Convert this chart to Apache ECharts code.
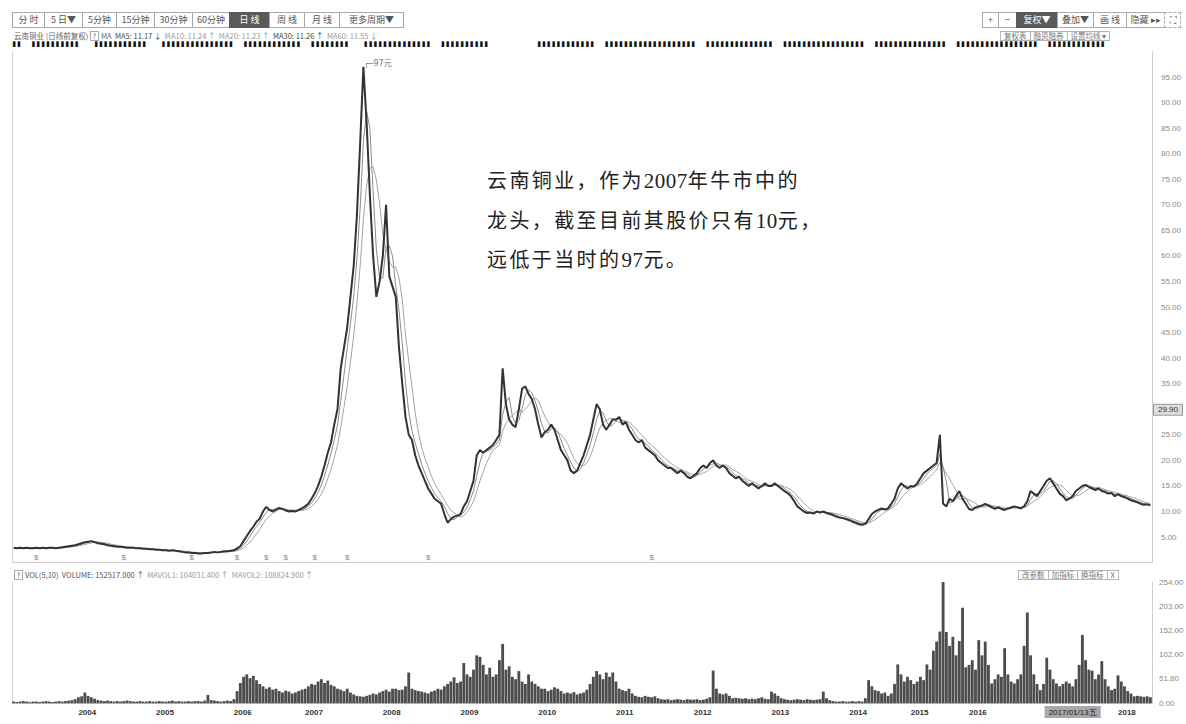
<!DOCTYPE html>
<html>
<head>
<meta charset="utf-8">
<script src="https://cdn.jsdelivr.net/npm/echarts@6/dist/echarts.min.js"></script>
<style>
  html, body { margin:0; padding:0; background:#fff; }
  #wrap { position:relative; width:1186px; height:724px; overflow:hidden; background:#fff;
          font-family:"Noto Sans CJK SC","Noto Sans",sans-serif; }
  #chart { position:absolute; left:0; top:0; width:1186px; height:724px; }
  .bar { position:absolute; display:flex; top:12px; height:16px; }
  .bar div { box-sizing:border-box; height:16px; border:1px solid #a9a9a9; margin-left:-1px;
             font-size:9px; line-height:14px; color:#555; text-align:center; background:#fff; white-space:nowrap; }
  .bar div.on { background:#5a5a5a; color:#fff; border-color:#5a5a5a; }
  .info { position:absolute; left:14px; top:31px; font-size:7.5px; line-height:10px; color:#666; white-space:nowrap; }
  .info .d { color:#444; } .info .l { color:#999; }
  .marks { position:absolute; left:13px; top:42px; font-family:"DejaVu Sans Mono",monospace; font-size:8px;
           line-height:8px; color:#111; white-space:pre; transform:scaleY(0.6); transform-origin:top left; }
  .sbtn { position:absolute; display:flex; }
  .sbtn div { box-sizing:border-box; border:1px solid #b5b5b5; margin-left:-1px; padding:0 3px;
              font-size:7.5px; line-height:8px; color:#777; background:#fff; white-space:nowrap; }
  .volhead { position:absolute; left:14px; top:570px; font-size:7.5px; line-height:10px; color:#555; white-space:nowrap; }
  .volhead .l { color:#999; }
  .q { display:inline-block; border:1px solid #aaa; width:7px; height:8px; line-height:8px; text-align:center; font-size:7px; margin-right:2px; }
  .note { position:absolute; left:487px; top:161px; font-size:20px; line-height:38.5px; color:#222;
          letter-spacing:2.4px; white-space:nowrap; }
  .note .n { font-family:"Liberation Serif","DejaVu Serif",serif; letter-spacing:0.5px; font-size:21px; }
</style>
</head>
<body>
<div id="wrap">
  <div id="chart"></div>

  <div class="bar" style="left:13px;">
    <div style="width:33px">分 时</div>
    <div style="width:39px">5 日▼</div>
    <div style="width:35px">5分钟</div>
    <div style="width:39px">15分钟</div>
    <div style="width:39px">30分钟</div>
    <div style="width:38px">60分钟</div>
    <div class="on" style="width:41px">日 线</div>
    <div style="width:36px">周 线</div>
    <div style="width:36px">月 线</div>
    <div style="width:65px">更多周期▼</div>
  </div>

  <div class="bar" style="left:983px;">
    <div style="width:17px">+</div>
    <div style="width:19px">−</div>
    <div class="on" style="width:42px">复权▼</div>
    <div style="width:37px">叠加▼</div>
    <div style="width:34px">画 线</div>
    <div style="width:39px">隐藏 ▸▸</div>
    <div style="width:17px;border-style:dashed">⛶</div>
  </div>

  <div class="info">云南铜业 (日线前复权) <span class="q">?</span>MA&nbsp; <span class="d">MA5: 11.17 ↓</span>&nbsp; <span class="l">MA10: 11.24 ↑</span>&nbsp; <span class="l">MA20: 11.23 ↑</span>&nbsp; <span class="d">MA30: 11.26 ↑</span>&nbsp; <span class="l">MA60: 11.55 ↓</span></div>

  <div class="sbtn" style="left:1001px; top:31px;">
    <div>复权表</div><div>融资融券</div><div>设置均线 ▾</div>
  </div>

  <div class="marks" id="marks"></div>

  <div class="volhead"><span class="q">?</span>VOL(5,10)&nbsp; VOLUME: 152517.000 ↑&nbsp; <span class="l">MAVOL1: 104031.400 ↑&nbsp; MAVOL2: 108824.900 ↑</span></div>

  <div class="sbtn" style="left:1019px; top:570px;">
    <div>改参数</div><div>加指标</div><div>换指标</div><div>X</div>
  </div>

  <div class="note">云南铜业，作为<span class="n">2007</span>年牛市中的<br>龙头，截至目前其股价只有<span class="n">10</span>元，<br>远低于当时的<span class="n">97</span>元。</div>
</div>

<script>
// ---- data: half-monthly closes (forward adjusted) ----
const price2003 = [2.9,2.8,2.9,2.8,2.9,2.8,2.8,2.9,2.8,2.9,2.8,2.9,2.9,2.8,2.9,3.0,3.1,3.2,3.3,3.4];
const price2004 = [3.6,3.8,4.0,4.1,4.2,4.0,3.8,3.7,3.6,3.4,3.3,3.2,3.1,3.1,3.0,2.9,2.9,2.9,2.8,2.8,2.7,2.7,2.6,2.6];
const price2005 = [2.5,2.5,2.4,2.4,2.3,2.4,2.3,2.2,2.1,2.0,2.0,1.9,1.9,1.8,1.8,1.9,1.9,2.0,2.1,2.0,2.1,2.2,2.2,2.3];
const price2006 = [2.4,2.8,3.2,4.2,5.2,6.2,7.0,8.0,8.6,10.0,10.9,10.3,10.0,10.4,10.7,10.5,10.2,10.0,10.1,10.0,10.3,10.6];
const price2007 = [11.0,11.5,12.5,13.6,15.0,16.8,19.0,21.5,23.5,27.0,30.0,38.0,42.0,46.0,52.0,58.0,68.0,82.0,97.0,86.0,72.0,60.0,52.0,55.0];
const price2008 = [60,70,56,54,52,42,35,28.5,25,24,21,19,17.5,16,14.5,13.5,12.5,12,11.5,9.5,7.8,8.5,9.0,9.2];
const price2009 = [9.5,11,12,14,16,21,22,21.5,22,22.5,23,24,25,38,31,28,27,26.5,30,34,34.5,33,32,30];
const price2010 = [27,24.5,25.5,26,27,26,24,22,21,20,18,17.5,18,19.5,21,23,25,28,31,30,27,26,27,28];
const price2011 = [28,28.5,27,27.5,26,25,24,23.5,24,22.5,22,21.5,21,20,19.5,19,18.5,18.5,18,17.5,18,17.5,16.8,16.5];
const price2012 = [17,17.5,18.5,19,18.5,19.5,20,19,18.5,19,18.5,17.5,17,16.5,16.8,16,15.5,15,15.5,15,14.5,15,15.5,15];
const price2013 = [15,15.5,15,14.5,14,13.6,13,12,11,10.5,10,9.7,9.8,9.6,10,9.8,10,9.7,9.5,9.3,9.0,8.8,8.7,8.5];
const price2014 = [8.3,8.0,7.8,7.5,7.4,7.6,8.5,9.5,10,10.3,10.6,10.4,10.6,11.5,12.5,14.5,15.5,15,14.5];
const price2015 = [15,14.9,15.5,16.5,17.5,18,18.5,19,19.5,25,11.5,11,12.5,12,13,14,12.5,11.5];
const price2016 = [10.5,10.3,10.8,11,11.2,11.5,11.2,10.8,10.5,10.8,10.5,10.3,10.6,10.8,11,10.8,10.6,11,12,14,13.5,13];
const price2017 = [14,15,16,16.5,15.5,14.5,13.5,13,12.2,12.5,13,14,14.5,15,15.2,14.8,14.5,14.2,14.5,14,13.8,13.5,13.6,13];
const price2018 = [13.4,13,12.8,12.5,12.2,12,11.8,11.5,11.3,11.4,11.2];

// ---- volume (axis units) ----
const vol2003 = [3,2,3,4,3,2,3,3,2,3,4,3,2,3,4,3,4,5,6,8];
const vol2004 = [12,14,22,15,12,9,6,5,4,5,4,3,4,3,4,5,4,3,3,4,3,3,4,3];
const vol2005 = [3,4,3,3,4,5,3,4,3,3,4,3,4,4,3,5,17,6,5,4,3,4,5,4];
const vol2006 = [8,25,42,55,60,52,57,48,40,35,30,33,28,30,25,22,26,24,20,22,25,28];
const vol2007 = [30,35,40,38,45,50,42,47,38,35,30,28,25,30,22,18,15,14,13,15,17,20,18,22];
const vol2008 = [25,28,24,30,30,27,28,35,64,30,27,25,24,22,20,24,26,30,28,35,40,45,54,42];
const vol2009 = [45,84,60,55,70,100,97,80,60,74,55,60,90,124,70,77,55,50,67,45,40,60,45,40];
const vol2010 = [35,30,30,25,28,33,30,25,20,22,20,23,18,20,22,28,40,55,67,60,50,64,55,64];
const vol2011 = [45,30,27,25,30,20,15,13,12,15,13,12,14,10,8,7,8,6,7,8,7,6,8,7];
const vol2012 = [7,8,6,7,9,12,68,30,20,18,20,15,10,11,10,9,10,8,9,8,10,12,9,8];
const vol2013 = [24,20,15,10,8,7,6,7,8,7,6,8,7,6,7,8,24,10,6,4,3,3,4,3];
const vol2014 = [3,4,3,4,3,10,48,35,27,25,20,22,15,20,40,81,60,45,55];
const vol2015 = [48,40,45,55,48,81,70,110,129,150,254,149,120,139,100,130,200,75];
const vol2016 = [80,90,70,132,100,129,80,41,50,60,55,115,60,45,41,50,60,120,190,100,60,40];
const vol2017 = [27,40,95,70,50,41,35,40,45,41,35,50,80,143,90,70,68,50,60,88,50,35,27,30];
const vol2018 = [58,45,35,25,20,14,15,14,13,14,12];

const years = [2003,2004,2005,2006,2007,2008,2009,2010,2011,2012,2013,2014,2015,2016,2017,2018];
const priceLists = [price2003,price2004,price2005,price2006,price2007,price2008,price2009,price2010,price2011,price2012,price2013,price2014,price2015,price2016,price2017,price2018];
const volLists = [vol2003,vol2004,vol2005,vol2006,vol2007,vol2008,vol2009,vol2010,vol2011,vol2012,vol2013,vol2014,vol2015,vol2016,vol2017,vol2018];

// ex-rights markers ($) — category names
const exRightsAt = ['2003·7','2004·14','2005·11','2006·1','2006·10','2006·16','2007·3','2007·13','2008·14','2011·11'];

// tick labels (the 30 tick is covered by the crosshair value box in the reference)
const priceTickLabels = ['5.00','10.00','15.00','20.00','25.00','','35.00','40.00','45.00','50.00','55.00','60.00','65.00','70.00','75.00','80.00','85.00','90.00','95.00'];
const volTickLabels = ['0.00','51.80','102.00','152.00','203.00','254.00'];
const hiddenYearLabels = ['2003','2017'];
const crosshairDate = '2017/01/13五';
const crosshairValue = 29.90;

// info-mine marker strip along the top (runs of marks, negative = gap)
const markRuns = [2,-2,10,-3,11,-3,15,-2,12,-2,8,-3,14,-2,10,-10,12,-2,19,-2,14,-2,17,-2,15,-2,17,-2,12];
document.getElementById('marks').textContent =
  markRuns.map(n => (n > 0 ? '▌'.repeat(n) : ' '.repeat(-n))).join('');

// ---- build series arrays ----
const categories = [], closes = [], volumes = [];
years.forEach((y, i) => {
  priceLists[i].forEach((v, k) => {
    categories.push(y + '·' + k);
    closes.push(v);
    volumes.push(volLists[i][k]);
  });
});
function movingAverage(src, n) {
  return src.map((v, i) => {
    if (i < n - 1) return '-';
    let s = 0;
    for (let j = i - n + 1; j <= i; j++) s += src[j];
    return +(s / n).toFixed(2);
  });
}
const ma3 = movingAverage(closes, 3);
const ma6 = movingAverage(closes, 6);

const chart = echarts.init(document.getElementById('chart'), null, { renderer: 'svg', width: 1186, height: 724 });

const hiddenLine = { color: 'rgba(0,0,0,0)', width: 1, opacity: 1, type: 'solid' };

const option = {
  animation: false,
  backgroundColor: '#fff',
  grid: [
    { left: 12, right: 34, top: 51.5, height: 511.1, outerBoundsMode: 'none', containLabel: false },
    { left: 12, right: 34, top: 582, height: 121, outerBoundsMode: 'none', containLabel: false }
  ],
  xAxis: [
    { type: 'category', gridIndex: 0, data: categories, boundaryGap: true,
      axisLine: { show: true, lineStyle: { color: '#cfcfcf' } },
      axisTick: { show: false }, axisLabel: { show: false }, splitLine: { show: false } },
    { type: 'category', gridIndex: 1, data: categories, boundaryGap: true,
      axisLine: { show: true, lineStyle: { color: '#b0b0b0' } },
      axisTick: { show: false }, splitLine: { show: false },
      axisLabel: {
        show: true, fontSize: 8, color: '#333', fontWeight: 'bold', margin: 5, align: 'left',
        fontFamily: 'Liberation Sans, Arial, sans-serif',
        interval: (idx, val) => {
          const [y, k] = val.split('·');
          return k === '0' && hiddenYearLabels.indexOf(y) < 0;
        },
        formatter: val => val.split('·')[0]
      } }
  ],
  yAxis: [
    { type: 'value', gridIndex: 0, position: 'right', min: 0, max: 100, interval: 5,
      axisLine: { show: true, lineStyle: { color: '#cfcfcf' } }, axisTick: { show: false },
      splitLine: { show: false },
      axisLabel: { fontSize: 8, color: '#8a8a8a', margin: 9, fontFamily: 'Liberation Sans, Arial, sans-serif',
        formatter: v => { const i = Math.round(v / 5) - 1; return priceTickLabels[i] || ''; } } },
    { type: 'value', gridIndex: 1, position: 'right', min: 0, max: 254, interval: 50.8,
      axisLine: { show: true, lineStyle: { color: '#cfcfcf' } }, axisTick: { show: false },
      splitLine: { show: false },
      axisLabel: { fontSize: 8, color: '#8a8a8a', margin: 7, fontFamily: 'Liberation Sans, Arial, sans-serif',
        formatter: v => volTickLabels[Math.round(v / 50.8)] || '' } },
    { type: 'value', gridIndex: 0, position: 'left', min: 0, max: 1,
      axisLine: { show: true, lineStyle: { color: '#d5d5d5' } }, axisTick: { show: false },
      axisLabel: { show: false }, splitLine: { show: false } },
    { type: 'value', gridIndex: 1, position: 'left', min: 0, max: 1,
      axisLine: { show: true, lineStyle: { color: '#d5d5d5' } }, axisTick: { show: false },
      axisLabel: { show: false }, splitLine: { show: false } }
  ],
  series: [
    { name: 'MA6', type: 'line', xAxisIndex: 0, yAxisIndex: 0, data: ma6, symbol: 'none',
      lineStyle: { color: '#a5a5a5', width: 1 }, z: 2 },
    { name: 'MA3', type: 'line', xAxisIndex: 0, yAxisIndex: 0, data: ma3, symbol: 'none',
      lineStyle: { color: '#8c8c8c', width: 1 }, z: 3 },
    { name: '收盘', type: 'line', xAxisIndex: 0, yAxisIndex: 0, data: closes, symbol: 'none',
      lineStyle: { color: '#333', width: 2 }, z: 4, clip: false,
      markPoint: {
        symbol: 'circle', symbolSize: 1, itemStyle: { color: 'rgba(0,0,0,0)' },
        data: [{ type: 'max' }],
        label: { show: true, position: 'right', distance: 0, offset: [0, -3],
          fontSize: 8, color: '#777', fontFamily: 'DejaVu Sans, Noto Sans CJK SC',
          formatter: p => '┌─' + Math.round(p.value) + '元' }
      },
      markLine: {
        silent: true, symbol: 'none', lineStyle: hiddenLine,
        data: [{ yAxis: crosshairValue }],
        label: { show: true, position: 'end', distance: 2, formatter: crosshairValue.toFixed(2),
          fontSize: 8, color: '#333', backgroundColor: '#dcdcdc', borderColor: '#9a9a9a', borderWidth: 1,
          padding: [1, 4], fontFamily: 'Liberation Sans, Arial, sans-serif', opacity: 1 }
      }
    },
    { name: '除权', type: 'scatter', xAxisIndex: 0, yAxisIndex: 0,
      data: exRightsAt.map(c => [c, 1.0]), symbolSize: 0.1, z: 5,
      label: { show: true, position: 'inside', formatter: '$', fontSize: 8, color: '#666' } },
    { name: 'VOLUME', type: 'bar', xAxisIndex: 1, yAxisIndex: 1, data: volumes, clip: false,
      itemStyle: { color: '#4d4d4d' }, barCategoryGap: '12%',
      markLine: {
        silent: true, symbol: 'none', lineStyle: hiddenLine,
        data: [{ xAxis: '2017·10' }],
        label: { show: true, position: 'start', distance: 3, formatter: crosshairDate,
          fontSize: 8, color: '#222', backgroundColor: '#a8a8a8', padding: [2, 4], opacity: 1 }
      }
    }
  ]
};
chart.setOption(option);
</script>
</body>
</html>
